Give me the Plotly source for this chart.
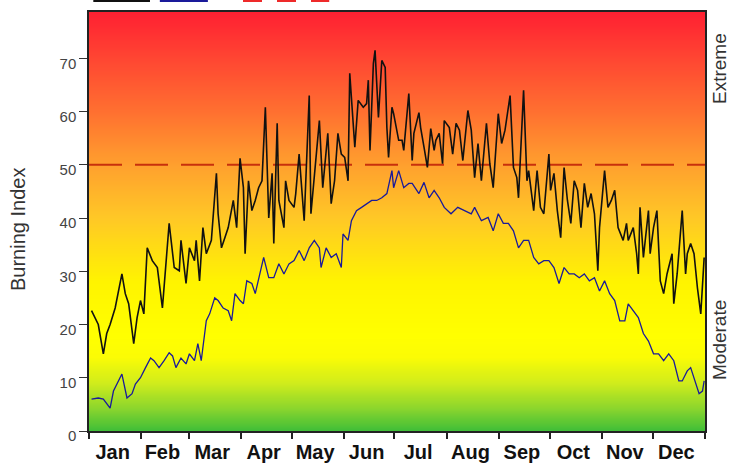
import plotly.graph_objects as go

# ---- data (day of year, Burning Index) ----
black_days = [2, 6, 9, 11, 13, 16, 20, 22, 24, 26, 27, 29, 31, 33, 35, 38, 41, 44, 47, 48,
              51, 54, 55, 58, 60, 63, 64, 66, 68, 70, 73, 76, 77, 79, 81, 83, 86, 88, 90, 92,
              93, 95, 97, 99, 101, 103, 105, 106, 107, 109, 110, 112, 113, 116, 117, 119, 122, 123, 125, 128,
              129, 131, 132, 134, 136, 137, 139, 142, 144, 146, 148, 150, 152, 154, 155, 157, 158, 160, 163, 165,
              166, 167, 169, 170, 172, 174, 176, 177, 178, 180, 181, 184, 186, 187, 190, 192, 193, 196, 197, 199,
              201, 203, 205, 206, 208, 210, 211, 214, 216, 218, 220, 222, 225, 227, 229, 231, 233, 236, 238, 240,
              243, 245, 247, 250, 252, 254, 255, 258, 260, 261, 264, 266, 268, 270, 273, 274, 276, 278, 280, 282,
              284, 286, 288, 290, 292, 294, 296, 298, 300, 302, 303, 306, 308, 310, 312, 314, 317, 319, 320, 323,
              325, 326, 327, 329, 332, 333, 335, 337, 339, 341, 343, 346, 347, 349, 352, 354, 355, 357, 359, 361,
              363, 365]
black_bi = [22.6, 20.0, 14.5, 18.3, 20.0, 23.1, 29.5, 25.8, 23.9, 18.3, 16.4, 21.3, 24.5, 22.0, 34.4, 32.0, 30.7, 23.1, 35.8, 39.0,
            30.7, 30.1, 35.8, 27.7, 34.4, 32.0, 35.8, 28.2, 38.2, 33.3, 35.8, 48.4, 40.8, 34.4, 36.3, 38.2, 43.3, 38.2, 51.2, 45.7,
            33.3, 47.0, 41.4, 43.3, 45.7, 47.0, 60.8, 52.0, 40.0, 48.4, 35.2, 57.8, 43.3, 38.2, 47.0, 43.3, 42.0, 44.6, 52.0, 39.5,
            47.0, 63.0, 40.8, 48.4, 54.6, 58.3, 45.7, 55.9, 42.7, 47.0, 55.9, 52.0, 51.4, 47.0, 67.2, 57.8, 53.3, 62.1, 60.8, 61.5,
            65.9, 52.7, 69.0, 71.5, 58.9, 69.6, 68.3, 57.0, 51.4, 60.8, 59.6, 54.6, 54.6, 52.7, 63.4, 50.8, 55.9, 59.8, 57.0, 53.3,
            49.5, 56.8, 52.7, 54.6, 55.9, 50.2, 58.3, 57.0, 52.0, 57.8, 56.5, 50.8, 60.2, 56.5, 47.6, 54.0, 47.0, 57.8, 50.2, 45.7,
            59.6, 54.0, 56.5, 63.0, 49.5, 47.6, 43.8, 64.0, 47.0, 48.9, 41.4, 48.9, 42.0, 40.8, 52.0, 45.2, 48.4, 41.4, 36.3, 49.5,
            43.3, 39.0, 47.0, 45.2, 38.2, 46.5, 42.0, 44.6, 40.8, 30.1, 38.2, 48.9, 42.0, 43.3, 45.2, 38.2, 35.8, 39.0, 35.8, 38.2,
            33.3, 29.5, 42.0, 32.6, 41.4, 33.3, 38.2, 41.4, 28.2, 25.8, 29.5, 33.3, 23.9, 29.5, 41.4, 29.5, 33.3, 35.2, 33.3, 26.9,
            22.0, 32.6]

blue_days = [2, 6, 9, 13, 15, 18, 20, 23, 26, 28, 31, 34, 37, 39, 42, 45, 48, 50, 52, 55,
             58, 60, 63, 65, 67, 70, 72, 75, 77, 80, 83, 85, 87, 90, 92, 94, 97, 99, 102, 104,
             107, 110, 113, 116, 119, 122, 125, 128, 131, 134, 137, 138, 141, 144, 147, 150, 151, 154, 156, 159,
             162, 165, 168, 171, 174, 177, 180, 181, 184, 187, 190, 192, 196, 199, 202, 205, 208, 211, 215, 219,
             223, 227, 229, 233, 237, 240, 243, 246, 249, 252, 255, 258, 261, 264, 267, 270, 273, 276, 279, 282,
             285, 288, 291, 294, 297, 300, 303, 306, 309, 312, 315, 318, 320, 323, 326, 329, 332, 335, 338, 341,
             344, 347, 350, 352, 355, 357, 360, 362, 364, 365]
blue_bi = [6.0, 6.2, 6.0, 4.3, 7.5, 9.4, 10.7, 6.2, 7.0, 8.8, 10.0, 11.9, 13.7, 13.2, 11.9, 13.2, 14.7, 14.1, 11.9, 13.7,
           12.6, 14.5, 13.2, 16.4, 13.2, 20.7, 22.0, 25.0, 24.5, 23.1, 22.6, 20.7, 25.8, 24.5, 23.9, 28.2, 27.7, 25.8, 30.1, 32.6,
           28.8, 28.8, 31.4, 29.5, 31.4, 32.0, 33.9, 32.0, 34.4, 35.8, 34.4, 30.7, 34.4, 32.6, 33.3, 30.7, 37.0, 35.8, 39.5, 41.4,
           42.0, 42.7, 43.3, 43.3, 43.8, 44.6, 48.9, 45.7, 48.9, 45.7, 46.5, 46.5, 44.6, 46.7, 43.8, 45.2, 43.8, 42.0, 40.8, 42.0,
           41.4, 40.8, 42.0, 39.5, 40.1, 37.6, 40.8, 39.0, 39.0, 37.6, 34.4, 35.8, 35.8, 32.6, 31.4, 32.0, 32.0, 30.7, 27.7, 30.7,
           29.5, 29.5, 28.8, 29.5, 28.2, 28.8, 26.3, 28.2, 25.8, 24.5, 20.7, 20.7, 23.9, 22.6, 21.3, 18.3, 16.9, 14.5, 14.5, 13.2,
           14.5, 13.2, 9.4, 9.4, 11.3, 11.9, 8.8, 7.0, 7.5, 9.4]

threshold = 50
month_names = ["Jan", "Feb", "Mar", "Apr", "May", "Jun", "Jul", "Aug", "Sep", "Oct", "Nov", "Dec"]
month_starts = [0, 31, 59, 90, 120, 151, 181, 212, 243, 273, 304, 334, 365]
y_ticks = [0, 10, 20, 30, 40, 50, 60, 70]

# ---- styling ----
YMAX = 78.7
month_mids = [(month_starts[i] + month_starts[i + 1]) / 2 - 1.5 for i in range(12)]

grad_stops = [(0, "#3dbd38"), (4, "#86d42e"), (9, "#cfec1c"), (14, "#fbfc05"), (18, "#ffff00"),
              (28, "#fff400"), (40, "#ffc826"), (50, "#ffa02e"), (60, "#ff7030"), (70, "#ff4632"), (YMAX, "#ff2032")]
colorscale = [[v / YMAX, c] for v, c in grad_stops]
ys = [YMAX * i / 100 for i in range(101)]

fig = go.Figure()
fig.add_trace(go.Heatmap(x=[0, 365], y=ys, z=[[y, y] for y in ys], colorscale=colorscale,
                         zmin=0, zmax=YMAX, showscale=False, zsmooth="best", hoverinfo="skip"))
fig.add_trace(go.Scatter(x=[0, 365], y=[threshold, threshold], mode="lines",
                         line=dict(color="#c8300c", width=2, dash="33px,13px"), showlegend=False))
fig.add_trace(go.Scatter(x=[d - 0.5 for d in blue_days], y=blue_bi, mode="lines",
                         line=dict(color="#1a1a9a", width=1.3), showlegend=False))
fig.add_trace(go.Scatter(x=[d - 0.5 for d in black_days], y=black_bi, mode="lines",
                         line=dict(color="#111111", width=1.6), showlegend=False))

# legend remnants cut off at the top edge
legend_y = 1 + 12 / 419
fig.add_shape(type="line", xref="paper", yref="paper", x0=0.007, x1=0.099, y0=legend_y, y1=legend_y,
              line=dict(color="#111111", width=4))
fig.add_shape(type="line", xref="paper", yref="paper", x0=0.115, x1=0.193, y0=legend_y, y1=legend_y,
              line=dict(color="#1a1a9a", width=4))
fig.add_shape(type="line", xref="paper", yref="paper", x0=0.25, x1=0.39, y0=legend_y, y1=legend_y,
              line=dict(color="#ee2a2a", width=4, dash="19px,15px"))

fig.update_layout(
    width=731, height=466,
    margin=dict(l=89, r=26, t=12, b=35, autoexpand=False),
    paper_bgcolor="white", plot_bgcolor="white",
    font=dict(family="Liberation Sans, Arial, sans-serif", color="#333333"),
    showlegend=False,
    xaxis=dict(range=[0, 365], tickvals=month_mids, ticktext=month_names, ticks="", automargin=False,
               tickfont=dict(family="Liberation Sans, Arial", size=20, color="#111111", weight="bold"),
               ticklabelstandoff=2,
               minor=dict(tickvals=month_starts, ticks="outside", ticklen=6, tickwidth=1.5, tickcolor="#222222"),
               showline=True, linecolor="#222222", linewidth=1.5, mirror=True, showgrid=False, zeroline=False,
               fixedrange=True),
    yaxis=dict(range=[0, YMAX], tickvals=y_ticks, ticks="outside", ticklen=8, tickwidth=1.2, tickcolor="#333333",
               tickfont=dict(size=15, color="#444444"), ticklabelshift=5, ticklabelstandoff=0, automargin=False,
               showline=True, linecolor="#222222", linewidth=1.5, mirror=True, showgrid=False, zeroline=False,
               fixedrange=True),
)

fig.add_annotation(text="Burning Index", xref="paper", yref="paper", x=(18 - 89) / 616, xanchor="center",
                   y=(431 - 230) / 419, yanchor="middle", textangle=-90, showarrow=False,
                   font=dict(size=20, color="#333333"))
fig.add_annotation(text="Extreme", xref="paper", yref="paper", x=1.0, xanchor="center", xshift=14,
                   y=(431 - 69) / 419, yanchor="middle", textangle=-90, showarrow=False,
                   font=dict(size=19, color="#333333"))
fig.add_annotation(text="Moderate", xref="paper", yref="paper", x=1.0, xanchor="center", xshift=14,
                   y=(431 - 340) / 419, yanchor="middle", textangle=-90, showarrow=False,
                   font=dict(size=19, color="#333333"))

fig.write_html("out.html", config={"displayModeBar": False},
               post_script="document.body.style.margin='0';")
